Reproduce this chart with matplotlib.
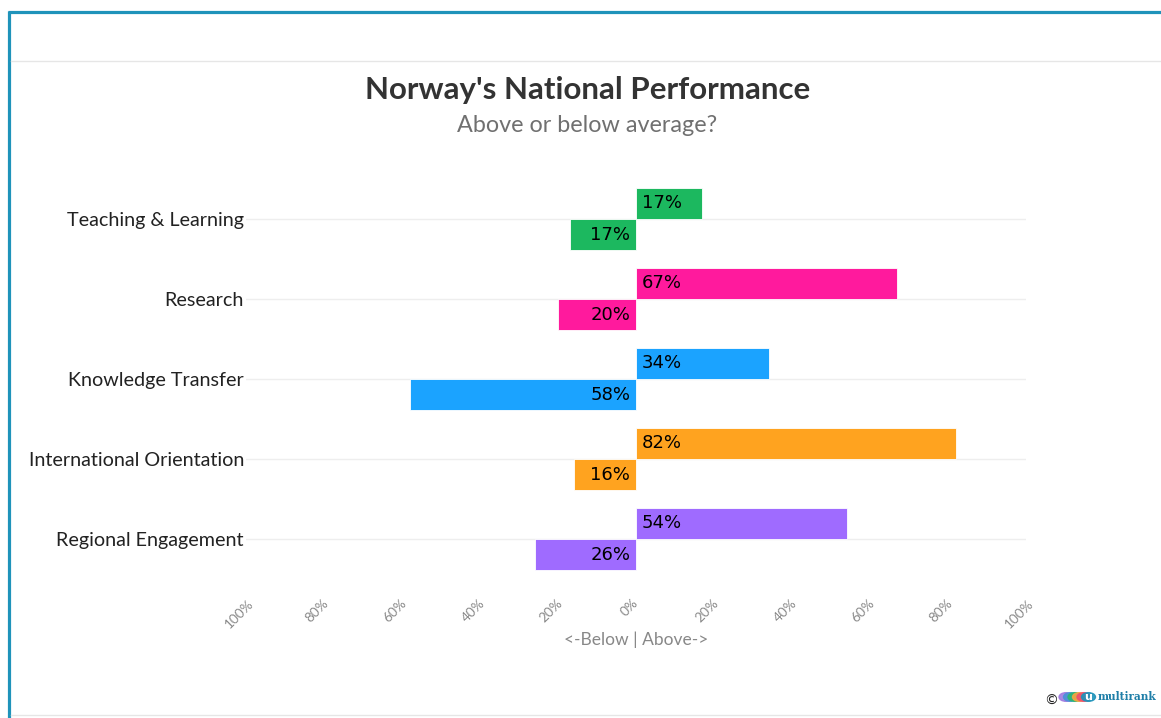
"""Norway's national performance - diverging bar chart"""
import matplotlib
matplotlib.use("Agg")
import matplotlib.pyplot as plt
import matplotlib.transforms as mtransforms
from matplotlib.lines import Line2D
from matplotlib.patches import Circle
import numpy as np

categories = ["Teaching & Learning", "Research", "Knowledge Transfer",
              "International Orientation", "Regional Engagement"]
above = [17, 67, 34, 82, 54]
below = [17, 20, 58, 16, 26]
colors = ["#1cb85f", "#ff1a9d", "#1ba3ff", "#ffa31f", "#9f6bff"]
tick_values = [-100, -80, -60, -40, -20, 0, 20, 40, 60, 80, 100]
tick_labels = ["100%", "80%", "60%", "40%", "20%", "0%",
               "20%", "40%", "60%", "80%", "100%"]

W, H = 1161, 718
FONT = "Lato"


def px(x, y):
    """pixel (from top-left) to figure fraction"""
    return x / W, 1 - y / H


def main():
    fig = plt.figure(figsize=(W / 100, H / 100), dpi=100)
    fig.patch.set_facecolor("white")

    # page decorations
    blue = "#1f93ba"
    fig.add_artist(Line2D([px(8, 0)[0], 1], [px(0, 12)[1]] * 2, color=blue,
                          lw=2.3, solid_capstyle="butt"))
    fig.add_artist(Line2D([px(9, 0)[0]] * 2, [px(0, 11)[1], 0], color=blue,
                          lw=2.3, solid_capstyle="butt"))
    fig.add_artist(Line2D([px(11, 0)[0], 1], [px(0, 61)[1]] * 2, color="#e6e6e6", lw=1))
    fig.add_artist(Line2D([px(11, 0)[0], 1], [px(0, 715)[1]] * 2, color="#e6e6e6", lw=1))

    left, top = px(246, 179)
    right, bottom = px(1026, 579)
    ax = fig.add_axes([left, bottom, right - left, top - bottom])

    y = np.arange(len(categories))[::-1]
    h = 0.39
    for i, cat in enumerate(categories):
        ax.barh(y[i] + h / 2, above[i], height=h, color=colors[i],
                edgecolor="white", linewidth=0.6, zorder=3)
        ax.barh(y[i] - h / 2, -below[i], height=h, color=colors[i],
                edgecolor="white", linewidth=0.6, zorder=3)
        ax.text(1.5, y[i] + h / 2, f"{above[i]}%", ha="left", va="center",
                fontsize=13, color="black", family="DejaVu Sans", zorder=4)
        ax.text(-1.5, y[i] - h / 2, f"{below[i]}%", ha="right", va="center",
                fontsize=13, color="black", family="DejaVu Sans", zorder=4)

    ax.set_xlim(-100, 100)
    ax.set_ylim(-0.5, len(categories) - 0.5)
    ax.set_yticks(y)
    ax.set_yticklabels(categories, fontsize=14.2, family=FONT, color="#222222")
    ax.tick_params(axis="y", length=0, pad=1.5)
    ax.set_xticks(tick_values)
    ax.set_xticklabels(tick_labels, rotation=45, ha="center", va="top",
                       fontsize=9.8, family=FONT, color="#8a8a8a")
    ax.tick_params(axis="x", length=0, pad=13)
    shift = mtransforms.ScaledTranslation(-7 / 100, 0, fig.dpi_scale_trans)
    for lab in ax.get_xticklabels():
        lab.set_transform(lab.get_transform() + shift)
    ax.set_xlabel("<-Below | Above->", fontsize=12.5, family=FONT,
                  color="#888888", labelpad=1)

    for yy in y:
        ax.axhline(yy, color="#eeeeee", lw=1, zorder=1)
    for s in ax.spines.values():
        s.set_visible(False)

    # titles
    tx, ty = px(588, 90)
    fig.text(tx, ty, "Norway's National Performance", ha="center", va="center",
             fontsize=22.5, fontweight="bold", family=FONT, color="#333333")
    sx, sy = px(587, 125)
    fig.text(sx, sy, "Above or below average?", ha="center", va="center",
             fontsize=16.8, family=FONT, color="#707070")

    # logo
    cx, cy = px(1051, 701)
    fig.text(cx, cy, "\u00a9", ha="center", va="center", fontsize=10,
             family="DejaVu Sans", color="#222222")
    logo_cols = ["#a07be0", "#4a90d9", "#2bb673", "#f7a541", "#ef4f6e", "#1f93ba"]
    for k, c in enumerate(logo_cols):
        lx, ly = px(1066 + k * 4.5, 697)
        fig.add_artist(Circle((lx, ly), 7 / W, transform=fig.transFigure,
                              color=c, alpha=0.9))
    ux, uy = px(1088.5, 697)
    fig.text(ux, uy, "u", ha="center", va="center", fontsize=8,
             fontweight="bold", color="white", family="DejaVu Sans")
    mx, my = px(1098, 696)
    fig.text(mx, my, "multirank", ha="left", va="center", fontsize=7.6,
             fontweight="bold", family="DejaVu Serif", color="#1f7fa8")

    fig.savefig("out.png", dpi=100, facecolor="white")


if __name__ == "__main__":
    main()
